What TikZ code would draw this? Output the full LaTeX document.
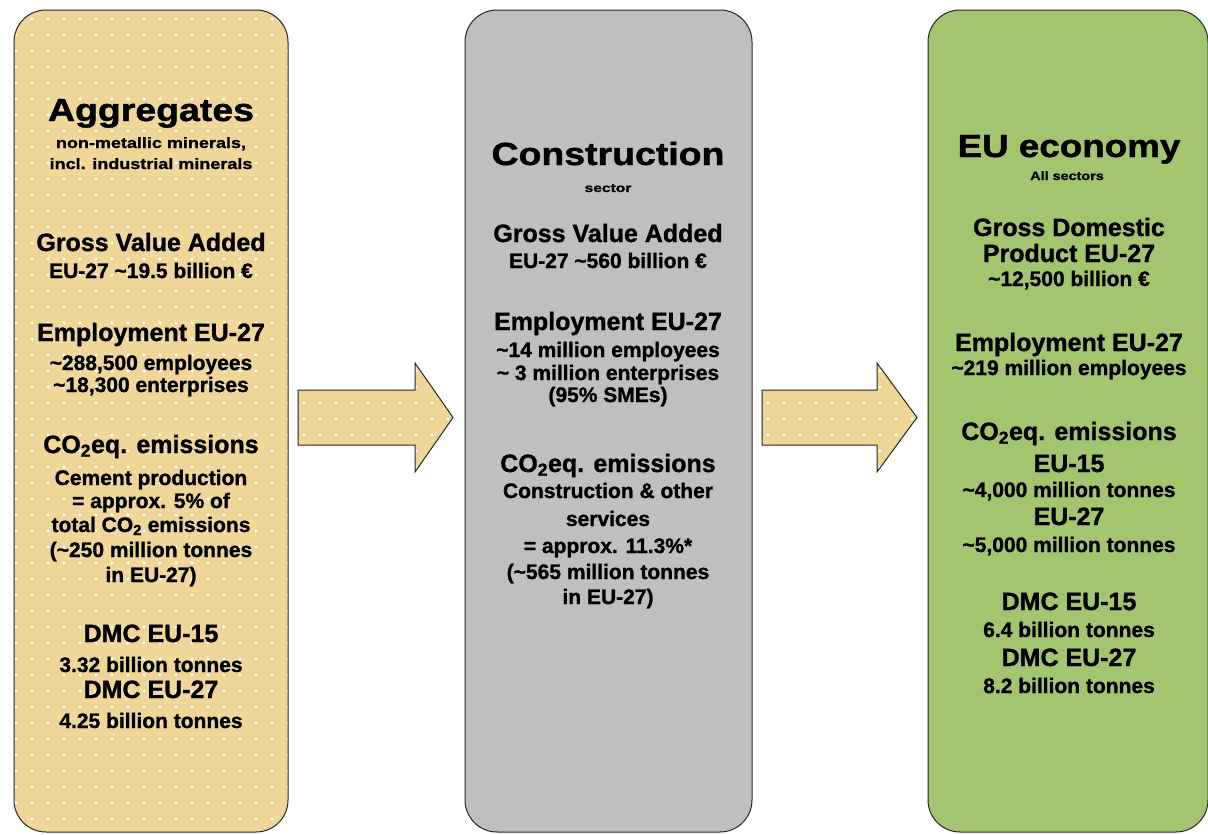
\documentclass[tikz,border=0pt]{standalone}
\usepackage{fontspec}
\setmainfont{Liberation Sans}[BoldFeatures={FakeBold=1.2}]
\usepackage{graphicx}
\usetikzlibrary{patterns.meta}
\definecolor{tanbase}{RGB}{238,215,152}
\definecolor{boxgray}{RGB}{191,191,191}
\definecolor{boxgreen}{RGB}{164,197,112}
\newcommand{\stretchtxt}[2]{\scalebox{#1}[1]{#2}}
\begin{document}
\begin{tikzpicture}[x=1pt,y=-1pt,
  panel/.style={draw=black!85, line width=1pt, rounded corners=32pt, inner sep=0pt},
  tanfill/.style={preaction={fill=tanbase}, pattern={Dots[distance=16pt,radius=1.6pt]}, pattern color=white},
  blockarrow/.style={draw=black!85, line width=1pt, tanfill},
  txt/.style={anchor=base, inner sep=0pt, font=\bfseries},
  ttl/.style={txt, font=\fontsize{32}{36}\selectfont\bfseries},
  hd/.style={txt, font=\fontsize{25}{28}\selectfont\bfseries},
  sb/.style={txt, font=\fontsize{21}{24}\selectfont\bfseries},
  tn/.style={txt, font=\fontsize{15}{17}\selectfont\bfseries},
  tt/.style={txt, font=\fontsize{12}{14}\selectfont\bfseries},
]
\useasboundingbox (0,0) rectangle (1208,835);
\fill[white] (0,0) rectangle (1208,835);

% panels
\node[panel, tanfill, minimum width=274pt, minimum height=822pt] (agg) at (151,421) {};
\node[panel, fill=boxgray, minimum width=287pt, minimum height=822pt] (con) at (608.5,421) {};
\node[panel, fill=boxgreen, minimum width=280pt, minimum height=822pt] (eco) at (1068,421) {};

% block arrows
\draw[blockarrow] (298,390) -- (415,390) -- (415,363) -- (453,417.5) -- (415,472) -- (415,445) -- (298,445) -- cycle;
\draw[blockarrow] (762,390) -- (877,390) -- (877,363) -- (917,417.5) -- (877,472) -- (877,445) -- (762,445) -- cycle;

% Aggregates
\node[ttl] (a1) at (151,121) {\stretchtxt{1.17}{Aggregates}};
\node[tn] (a2) at (151,148) {\stretchtxt{1.2}{non-metallic minerals,}};
\node[tn] (a3) at (151,169) {\stretchtxt{1.2}{incl. industrial minerals}};
\node[hd] (a4) at (151,251) {Gross Value Added};
\node[sb] (a5) at (151,278) {EU-27 \textasciitilde19.5 billion €};
\node[hd] (a6) at (151,341) {Employment EU-27};
\node[sb] (a7) at (151,370) {\textasciitilde288,500 employees};
\node[sb] (a8) at (151,392) {\textasciitilde18,300 enterprises};
\node[hd] (a9) at (151,453) {CO\textsubscript{2}eq. emissions};
\node[sb] (a10) at (151,485) {Cement production};
\node[sb] (a11) at (151,508) {= approx. 5\% of};
\node[sb] (a12) at (151,532) {total CO\textsubscript{2} emissions};
\node[sb] (a13) at (151,557) {(\textasciitilde250 million tonnes};
\node[sb] (a14) at (151,582) {in EU-27)};
\node[hd] (a15) at (151,642) {DMC EU-15};
\node[sb] (a16) at (151,672) {3.32 billion tonnes};
\node[hd] (a17) at (151,698) {DMC EU-27};
\node[sb] (a18) at (151,728) {4.25 billion tonnes};

% Construction
\node[ttl] (c1) at (608,165) {\stretchtxt{1.17}{Construction}};
\node[tt] (c2) at (608,192) {\stretchtxt{1.3}{sector}};
\node[hd] (c3) at (608,242) {Gross Value Added};
\node[sb] (c4) at (608,268) {EU-27 \textasciitilde560 billion €};
\node[hd] (c5) at (608,330) {Employment EU-27};
\node[sb] (c6) at (608,357) {\textasciitilde14 million employees};
\node[sb] (c7) at (608,380) {\textasciitilde{} 3 million enterprises};
\node[sb] (c8) at (608,402) {(95\% SMEs)};
\node[hd] (c9) at (608,472) {CO\textsubscript{2}eq. emissions};
\node[sb] (c10) at (608,498) {Construction \& other};
\node[sb] (c11) at (608,526) {services};
\node[sb] (c12) at (608,553) {= approx. 11.3\%*};
\node[sb] (c13) at (608,579) {(\textasciitilde565 million tonnes};
\node[sb] (c14) at (608,604) {in EU-27)};

% EU economy
\node[ttl] (e1) at (1069,157) {\stretchtxt{1.15}{EU economy}};
\node[tt] (e2) at (1067,180) {\stretchtxt{1.2}{All sectors}};
\node[hd] (e3) at (1069,236) {Gross Domestic};
\node[hd] (e4) at (1069,262) {Product EU-27};
\node[sb] (e5) at (1069,286) {\textasciitilde12,500 billion €};
\node[hd] (e6) at (1069,351) {Employment EU-27};
\node[sb] (e7) at (1069,375) {\textasciitilde219 million employees};
\node[hd] (e8) at (1069,440) {CO\textsubscript{2}eq. emissions};
\node[hd] (e9) at (1069,472) {EU-15};
\node[sb] (e10) at (1069,497) {\textasciitilde4,000 million tonnes};
\node[hd] (e11) at (1069,525) {EU-27};
\node[sb] (e12) at (1069,552) {\textasciitilde5,000 million tonnes};
\node[hd] (e13) at (1069,610) {DMC EU-15};
\node[sb] (e14) at (1069,637) {6.4 billion tonnes};
\node[hd] (e15) at (1069,666) {DMC EU-27};
\node[sb] (e16) at (1069,693) {8.2 billion tonnes};
\end{tikzpicture}
\end{document}
